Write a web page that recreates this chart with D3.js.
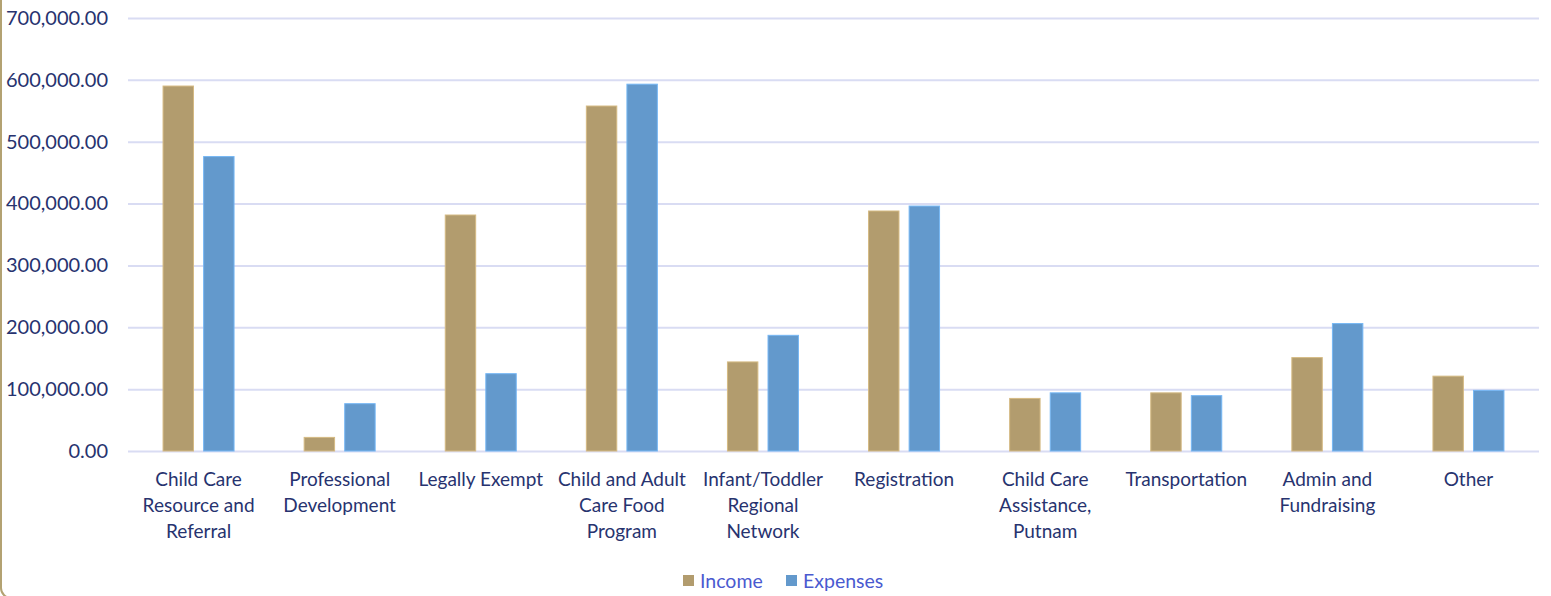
<!DOCTYPE html>
<html>
<head>
<meta charset="utf-8">
<script src="https://cdn.jsdelivr.net/npm/d3@7"></script>
<style>
  body { margin: 0; background: #fff; }
  svg { display: block; font-family: Lato, "Noto Sans", sans-serif; }
</style>
</head>
<body>
<svg width="1551" height="596"></svg>
<script>
// categories, wrapped the same way as the original axis labels
const categories = [
  ["Child Care", "Resource and", "Referral"],
  ["Professional", "Development"],
  ["Legally Exempt"],
  ["Child and Adult", "Care Food", "Program"],
  ["Infant/Toddler", "Regional", "Network"],
  ["Registration"],
  ["Child Care", "Assistance,", "Putnam"],
  ["Transportation"],
  ["Admin and", "Fundraising"],
  ["Other"]
];
const income   = [590000, 22000, 381500, 557700, 144000, 388000, 85000, 94000, 151000, 121000];
const expenses = [476000, 76500, 125000, 593000, 187000, 396000, 94000, 89500, 206000, 98000];
const seriesNames = ["Income", "Expenses"];
const colors = ["#b29c6e", "#6399cc"];
const yTicks = [0, 100000, 200000, 300000, 400000, 500000, 600000, 700000];

const svg = d3.select("svg");
const plotL = 128, plotR = 1539, plotT = 18, plotB = 451;

// rounded frame, only its left side and corner show in the picture
svg.append("rect")
  .attr("x", 1).attr("y", -30).attr("width", 1600).attr("height", 628)
  .attr("rx", 10)
  .attr("fill", "none").attr("stroke", "#b3a272").attr("stroke-width", 2);

const x = d3.scaleBand().domain(d3.range(categories.length)).range([plotL, plotR]);
const y = d3.scaleLinear().domain([0, 700000]).range([plotB, plotT]);
const inner = d3.scaleBand().domain([0, 1])
  .range([x.bandwidth() / 2 - 35.5, x.bandwidth() / 2 + 35.5]).paddingInner(0.25);

// gridlines
svg.append("g")
  .attr("transform", `translate(${plotL},0)`)
  .call(d3.axisLeft(y).tickValues(yTicks).tickSize(-(plotR - plotL)).tickFormat(""))
  .call(g => g.select(".domain").remove())
  .call(g => g.selectAll("line").attr("stroke", "#d9dcf3").attr("stroke-width", 2));

// y labels
svg.append("g")
  .attr("transform", `translate(108,0)`)
  .call(d3.axisLeft(y).tickValues(yTicks).tickSize(0).tickPadding(0).tickFormat(d3.format(",.2f")))
  .call(g => g.select(".domain").remove())
  .call(g => g.selectAll("text")
    .attr("fill", "#27336f").attr("font-size", 20).attr("font-family", "Lato, sans-serif"));

// bars
const series = [income, expenses];
series.forEach((vals, s) => {
  svg.append("g").selectAll("rect").data(vals).join("rect")
    .attr("x", (d, i) => x(i) + inner(s))
    .attr("y", d => y(d))
    .attr("width", inner.bandwidth())
    .attr("height", d => y(0) - y(d))
    .attr("fill", colors[s])
    .attr("stroke", d3.color(colors[s]).brighter(0.5))
    .attr("stroke-width", 1);
});

// category labels
const xl = svg.append("g")
  .attr("transform", `translate(0,${plotB})`)
  .call(d3.axisBottom(x).tickSize(0).tickFormat(""));
xl.select(".domain").remove();
xl.selectAll(".tick").each(function(i) {
  const t = d3.select(this).append("text")
    .attr("fill", "#27336f").attr("font-size", 19).attr("text-anchor", "middle")
    .attr("font-family", "Lato, sans-serif");
  categories[i].forEach((line, k) => {
    t.append("tspan").attr("x", 0).attr("y", 35 + k * 26).text(line);
  });
});

// legend
const legend = svg.append("g").attr("transform", "translate(683,581)");
const legendX = [0, 103];
seriesNames.forEach((name, s) => {
  const g = legend.append("g").attr("transform", `translate(${legendX[s]},0)`);
  g.append("rect").attr("x", 0).attr("y", -6).attr("width", 11).attr("height", 11).attr("fill", colors[s]);
  g.append("text").attr("x", 17).attr("y", 7).attr("font-size", 19.5)
    .attr("fill", "#4a5ad0").text(name);
});
</script>
</body>
</html>
